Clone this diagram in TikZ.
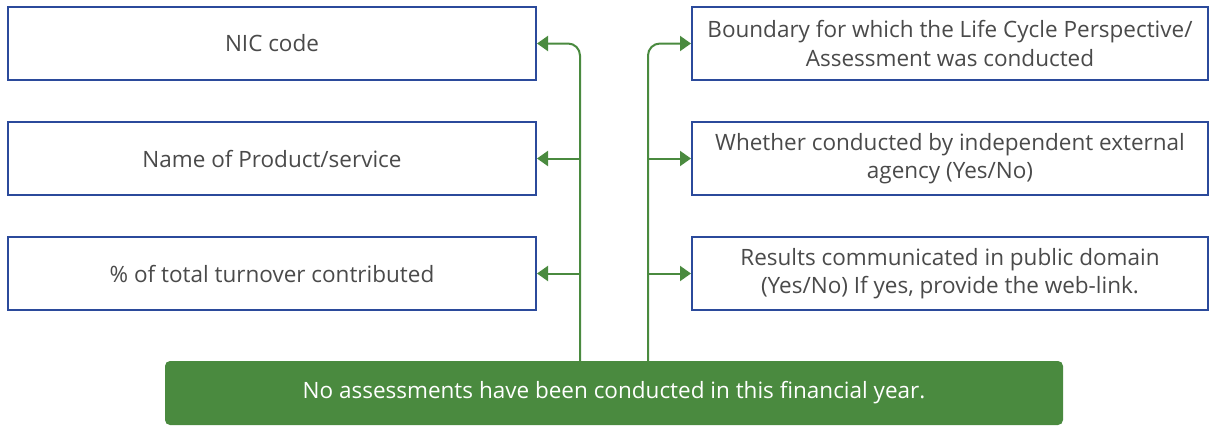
\documentclass[tikz,border=0pt]{standalone}
\usepackage{fontspec}
\setmainfont{Open Sans}
\usetikzlibrary{arrows.meta}
\definecolor{boxblue}{HTML}{2B4A9B}
\definecolor{leaf}{HTML}{4A8A3F}
\definecolor{txt}{HTML}{4A4A4A}
\tikzset{
  infobox/.style={draw=boxblue, line width=2pt, fill=white, minimum width=528pt, minimum height=73pt, inner sep=0pt, text=txt, align=center, font=\fontsize{22.5}{28.5}\selectfont},
  rinfobox/.style={infobox, minimum width=516pt},
  link/.style={draw=leaf, line width=2pt},
  linkarr/.style={link, -{Triangle[length=11pt,width=15pt]}},
}
\begin{document}
\begin{tikzpicture}[x=1pt,y=-1pt]
\useasboundingbox (0,0) rectangle (1216,426);
\node[infobox] (L1) at (272,43.5) {\raisebox{-1.5pt}{NIC code}};
\node[infobox] (L2) at (272,158.5) {\raisebox{-1.5pt}{Name of Product/service}};
\node[infobox] (L3) at (272,273.5) {\raisebox{-1.5pt}{\% of total turnover contributed}};
\node[rinfobox] (R1) at (950,43.5) {Boundary for which the Life Cycle Perspective/\\Assessment was conducted};
\node[rinfobox] (R2) at (950,158.5) {Whether conducted by independent external\\agency (Yes/No)};
\node[rinfobox] (R3) at (950,273.5) {Results communicated in public domain\\(Yes/No) If yes, provide the web-link.};
\node[fill=leaf, rounded corners=5pt, minimum width=898pt, minimum height=64pt, inner sep=0pt, text=white, font=\fontsize{22.5}{27}\selectfont] (bar) at (614,393) {\raisebox{-3pt}{No assessments have been conducted in this financial year.}};
\coordinate (lb) at (580,361);
\coordinate (rb) at (648,361);
\draw[linkarr, rounded corners=12pt] (lb) |- (L1.east);
\draw[linkarr, rounded corners=12pt] (rb) |- (R1.west);
\draw[linkarr] (lb |- L2.east) -- (L2.east);
\draw[linkarr] (lb |- L3.east) -- (L3.east);
\draw[linkarr] (rb |- R2.west) -- (R2.west);
\draw[linkarr] (rb |- R3.west) -- (R3.west);
\end{tikzpicture}
\end{document}
